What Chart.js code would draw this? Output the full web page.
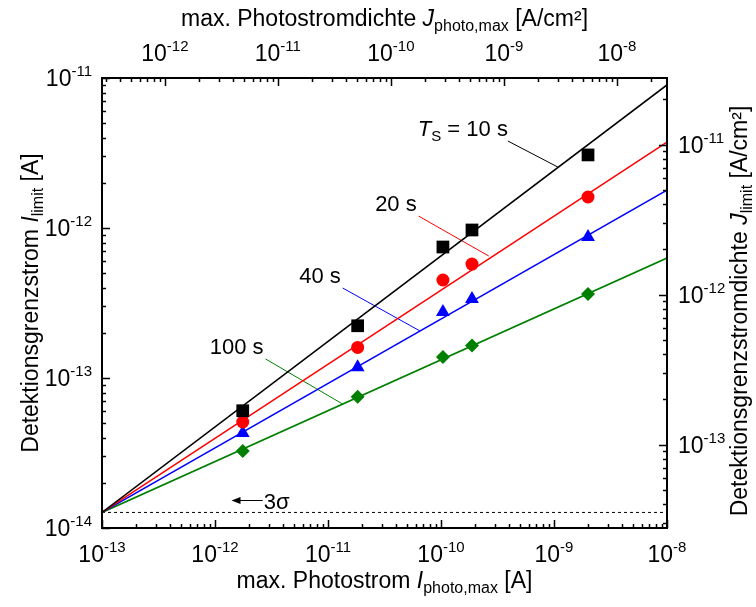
<!DOCTYPE html>
<html>
<head>
<meta charset="utf-8">
<script src="https://cdn.jsdelivr.net/npm/chart.js@4.4.1/dist/chart.umd.min.js"></script>
<style>
  body { margin: 0; background: #fff; }
  #chart { display: block; }
</style>
</head>
<body>
<canvas id="chart" width="756" height="607"></canvas>
<script>
// detector area in cm^2 (links I and J axes)
const area = 0.36;
const sigma3 = 1.27e-14;

// photo current columns (A)
const photoCurrent = [1.76e-12, 1.83e-11, 1.04e-10, 1.88e-10, 2.0e-9];

// measured detection limits (A)
const limit10s = [6.05e-14, 2.23e-13, 7.47e-13, 9.7e-13, 3.07e-12];
const limit20s = [5.09e-14, 1.6e-13, 4.5e-13, 5.75e-13, 1.61e-12];
const limit40s = [4.3e-14, 1.18e-13, 2.75e-13, 3.36e-13, 8.7e-13];
const limit100s = [3.26e-14, 7.5e-14, 1.38e-13, 1.65e-13, 3.63e-13];

// fit line end values at I = 1e-8 A
const fitEnd = [8.98e-12, 3.74e-12, 1.79e-12, 6.3e-13];

// major tick values
const xMajor = [1e-13, 1e-12, 1e-11, 1e-10, 1e-9, 1e-8];
const yMajor = [1e-14, 1e-13, 1e-12, 1e-11];
const x2Major = [1e-12, 1e-11, 1e-10, 1e-9, 1e-8];
const y2Major = [1e-13, 1e-12, 1e-11];

// annotation leader lines [x1, y1, x2, y2] in data units
const labels = ["10 s", "20 s", "40 s", "100 s"];
const leaders = [
  [3.91e-10, 3.8e-12, 1.08e-9, 2.55e-12],
  [6.35e-11, 1.2e-12, 2.65e-10, 6.5e-13],
  [1.35e-11, 3.98e-13, 6.5e-11, 2.06e-13],
  [2.8e-12, 1.34e-13, 1.35e-11, 6.7e-14],
];
const sigmaArrow = [1.4e-12, 2.64e-12, 1.54e-14];

const colors = ["#000000", "#ff0000", "#0000ff", "#008000"];
const shapes = ["rect", "circle", "triangle", "rectRot"];
const radii = [9, 6.5, 8, 7];
const FONT = "'Liberation Sans', Arial, sans-serif";

function pts(xs, ys) {
  return xs.map((x, i) => ({ x: x, y: ys[i] }));
}

const series = [limit10s, limit20s, limit40s, limit100s];
let datasets = [];

datasets.push({
  type: "line",
  data: [{ x: 1e-13, y: sigma3 }, { x: 1e-8, y: sigma3 }],
  borderColor: "#000",
  borderWidth: 1,
  borderDash: [3, 3],
  pointRadius: 0,
  order: 5,
});

series.forEach((s, i) => {
  datasets.push({
    type: "line",
    data: [{ x: 1e-13, y: sigma3 }, { x: 1e-8, y: fitEnd[i] }],
    borderColor: colors[i],
    borderWidth: 1.6,
    pointRadius: 0,
    order: 3,
  });
  datasets.push({
    type: "line",
    data: [
      { x: leaders[i][0], y: leaders[i][1] },
      { x: leaders[i][2], y: leaders[i][3] },
    ],
    borderColor: colors[i],
    borderWidth: 1,
    pointRadius: 0,
    order: 4,
  });
  datasets.push({
    type: "scatter",
    data: pts(photoCurrent, s),
    showLine: false,
    pointStyle: shapes[i],
    pointRadius: radii[i],
    backgroundColor: colors[i],
    borderColor: colors[i],
    borderWidth: 0,
    order: 1,
  });
});

function logTicks(min, max) {
  const out = [];
  const e0 = Math.floor(Math.log10(min)) - 1;
  const e1 = Math.ceil(Math.log10(max)) + 1;
  for (let e = e0; e <= e1; e++) {
    for (let m = 1; m <= 9; m++) {
      const v = m * Math.pow(10, e);
      if (v >= min * 0.999999 && v <= max * 1.000001) out.push({ v: v, major: m === 1 });
    }
  }
  return out;
}

// draw a run of text pieces: {t, s (size), it (italic), dy}
function rich(ctx, parts, x, y, align) {
  let w = 0;
  parts.forEach((p) => {
    ctx.font = (p.it ? "italic " : "") + p.s + "px " + FONT;
    p.w = ctx.measureText(p.t).width;
    w += p.w;
  });
  let cx = x;
  if (align === "center") cx = x - w / 2;
  if (align === "right") cx = x - w;
  ctx.textAlign = "left";
  ctx.textBaseline = "alphabetic";
  parts.forEach((p) => {
    ctx.font = (p.it ? "italic " : "") + p.s + "px " + FONT;
    ctx.fillText(p.t, cx, y + (p.dy || 0));
    cx += p.w;
  });
}

function pow10(v) {
  const e = Math.round(Math.log10(v));
  return [{ t: "10", s: 23 }, { t: "-" + Math.abs(e), s: 15, dy: -10 }];
}

const axesPlugin = {
  id: "axesPlugin",
  afterDraw(chart) {
    const ctx = chart.ctx;
    const a = chart.chartArea;
    const xs = chart.scales.x, ys = chart.scales.y;
    const x2 = chart.scales.x2, y2 = chart.scales.y2;
    ctx.save();
    ctx.fillStyle = "#000";
    ctx.strokeStyle = "#000";

    ctx.lineWidth = 2;
    ctx.strokeRect(a.left, a.top, a.right - a.left, a.bottom - a.top);

    ctx.lineWidth = 1.5;
    ctx.beginPath();
    logTicks(xs.min, xs.max).forEach((t) => {
      const p = Math.round(xs.getPixelForValue(t.v)) + 0.5;
      const l = t.major ? 8 : 4;
      ctx.moveTo(p, a.bottom); ctx.lineTo(p, a.bottom - l);
    });
    logTicks(x2.min, x2.max).forEach((t) => {
      const p = Math.round(x2.getPixelForValue(t.v)) + 0.5;
      const l = t.major ? 8 : 4;
      ctx.moveTo(p, a.top); ctx.lineTo(p, a.top + l);
    });
    logTicks(ys.min, ys.max).forEach((t) => {
      const p = Math.round(ys.getPixelForValue(t.v)) + 0.5;
      const l = t.major ? 8 : 4;
      ctx.moveTo(a.left, p); ctx.lineTo(a.left + l, p);
    });
    logTicks(y2.min, y2.max).forEach((t) => {
      const p = Math.round(y2.getPixelForValue(t.v)) + 0.5;
      const l = t.major ? 8 : 4;
      ctx.moveTo(a.right, p); ctx.lineTo(a.right - l, p);
    });
    ctx.stroke();

    xMajor.forEach((v) => rich(ctx, pow10(v), xs.getPixelForValue(v), a.bottom + 34, "center"));
    x2Major.forEach((v) => rich(ctx, pow10(v), x2.getPixelForValue(v), a.top - 17, "center"));
    yMajor.forEach((v) => rich(ctx, pow10(v), a.left - 10, ys.getPixelForValue(v) + 8, "right"));
    y2Major.forEach((v) => rich(ctx, pow10(v), a.right + 11, y2.getPixelForValue(v) + 8, "left"));

    const cx = (a.left + a.right) / 2;
    const cy = (a.top + a.bottom) / 2;
    rich(ctx, [
      { t: "max. Photostrom ", s: 23 },
      { t: "I", s: 23, it: true },
      { t: "photo,max", s: 16, dy: 5 },
      { t: " [A]", s: 23 },
    ], cx, 588, "center");
    rich(ctx, [
      { t: "max. Photostromdichte ", s: 23 },
      { t: "J", s: 23, it: true },
      { t: "photo,max", s: 16, dy: 5 },
      { t: " [A/cm²]", s: 23 },
    ], cx, 26, "center");

    ctx.save();
    ctx.translate(38, cy);
    ctx.rotate(-Math.PI / 2);
    rich(ctx, [
      { t: "Detektionsgrenzstrom ", s: 23 },
      { t: "I", s: 23, it: true },
      { t: "limit", s: 16, dy: 5 },
      { t: " [A]", s: 23 },
    ], 0, 0, "center");
    ctx.restore();

    ctx.save();
    ctx.translate(747, cy + 8);
    ctx.rotate(-Math.PI / 2);
    rich(ctx, [
      { t: "Detektionsgrenzstromdichte ", s: 23 },
      { t: "J", s: 23, it: true },
      { t: "limit", s: 16, dy: 5 },
      { t: " [A/cm²]", s: 23 },
    ], 0, 0, "center");
    ctx.restore();

    // series labels at the start of each leader line
    leaders.forEach((ld, i) => {
      const px = xs.getPixelForValue(ld[0]);
      const py = ys.getPixelForValue(ld[1]) - 13 + 8;
      if (i === 0) {
        rich(ctx, [
          { t: "T", s: 22, it: true },
          { t: "S", s: 15, dy: 5 },
          { t: " = " + labels[i], s: 22 },
        ], px, py, "right");
      } else {
        rich(ctx, [{ t: labels[i], s: 22 }], px - 2, py, "right");
      }
    });

    // 3 sigma arrow
    const ax1 = xs.getPixelForValue(sigmaArrow[0]);
    const ax2 = xs.getPixelForValue(sigmaArrow[1]);
    const ay = Math.round(ys.getPixelForValue(sigmaArrow[2])) + 0.5;
    ctx.lineWidth = 1;
    ctx.beginPath();
    ctx.moveTo(ax2, ay); ctx.lineTo(ax1 + 6, ay);
    ctx.stroke();
    ctx.beginPath();
    ctx.moveTo(ax1, ay); ctx.lineTo(ax1 + 9, ay - 3.5); ctx.lineTo(ax1 + 9, ay + 3.5);
    ctx.closePath();
    ctx.fill();
    rich(ctx, [{ t: "3σ", s: 22 }], ax2 + 1, ay + 8, "left");

    ctx.restore();
  },
};

new Chart(document.getElementById("chart"), {
  data: { datasets: datasets },
  options: {
    responsive: false,
    animation: false,
    devicePixelRatio: 1,
    layout: { padding: { left: 102, right: 89, top: 78, bottom: 79 } },
    plugins: { legend: { display: false }, tooltip: { enabled: false } },
    scales: {
      x: { type: "logarithmic", position: "bottom", min: 1e-13, max: 1e-8, display: false },
      y: { type: "logarithmic", position: "left", min: 1e-14, max: 1e-11, display: false },
      x2: { type: "logarithmic", position: "top", min: 1e-13 / area, max: 1e-8 / area, display: false },
      y2: { type: "logarithmic", position: "right", min: 1e-14 / area, max: 1e-11 / area, display: false },
    },
  },
  plugins: [axesPlugin],
});
</script>
</body>
</html>
